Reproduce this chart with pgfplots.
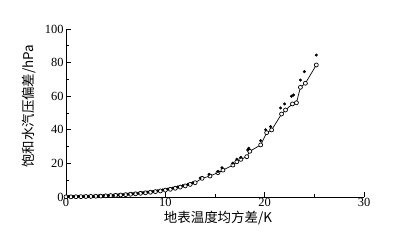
\documentclass[border=0pt]{standalone}
\usepackage{pgfplots}
\pgfplotsset{compat=1.18}
\usepackage{fontspec}
\setmainfont{Liberation Serif}
\newfontfamily\cjk{Noto Sans CJK SC}
\pgfplotstableread{
x y
0 0.1
0.5 0.1
1 0.15
1.5 0.2
2 0.3
2.5 0.35
3 0.45
3.5 0.55
4 0.7
4.5 0.85
5 1.0
5.5 1.2
6 1.4
6.5 1.65
7 1.9
7.5 2.2
8 2.5
8.5 2.85
9 3.2
9.5 3.6
10 4.1
10.5 4.6
11 5.2
11.5 5.9
12 6.6
12.5 7.5
13 8.5
13.7 11.1
14.5 12.5
15.3 14.5
15.8 16
16.8 19
17.2 21
17.6 22.4
18.2 24
18.5 27.2
19.6 31
20.2 38.3
20.7 39.9
21.7 49.4
22.1 51.8
22.8 55.4
23.2 56.1
23.6 65.3
24.1 67.7
25.2 78.6
}\opendata
\pgfplotstableread{
x y
0.25 0.2
0.75 0.25
1.25 0.3
1.75 0.35
2.25 0.45
2.75 0.5
3.25 0.6
3.75 0.75
4.25 0.9
4.75 1.05
5.25 1.25
5.75 1.45
6.25 1.7
6.75 1.95
7.25 2.25
7.75 2.55
8.25 2.9
8.75 3.3
9.25 3.7
9.75 4.2
10.25 4.7
10.75 5.3
11.25 6.0
11.75 6.7
12.25 7.5
12.75 8.4
13.5 11.3
14.4 13.5
15.3 15.2
15.7 17.4
16.8 20.2
17.2 22.5
17.6 23.6
18.3 28
18.4 29
19.6 33.5
20.1 40
20.6 41.9
21.6 53
22.0 55.4
22.7 60
22.9 60.7
23.6 69.6
24.0 74.6
25.2 84.5
}\filldata
\begin{document}
\begin{tikzpicture}
\path[use as bounding box] (0bp,0bp) rectangle (401bp,243bp);
\begin{axis}[
  at={(66bp,46bp)}, anchor=south west,
  scale only axis, width=298bp, height=168bp,
  xmin=0, xmax=30, ymin=0, ymax=100,
  axis x line*=bottom, axis y line*=left,
  axis line style={-, line width=0.8pt},
  tick align=inside,
  xtick={0,10,20,30}, ytick={0,20,40,60,80,100},
  minor x tick num=1, minor y tick num=1,
  major tick length=5bp, minor tick length=3bp,
  tick style={line width=0.7pt, black},
  /pgf/number format/assume math mode=true,
  tick label style={font=\fontsize{12.5}{13}\selectfont},
  xticklabel style={yshift=2bp},
  yticklabel style={xshift=1bp},
  clip=false,
  xlabel={\cjk 地表温度均方差/K},
  ylabel={\cjk 饱和水汽压偏差/hPa},
  xlabel style={font=\fontsize{13.5}{14}\selectfont, at={(rel axis cs:0.51,0)}, anchor=center, yshift=-21bp},
  ylabel style={font=\fontsize{13.5}{14}\selectfont, at={(rel axis cs:0,0.54)}, anchor=center, yshift=37bp},
]
\addplot[black, line width=0.7pt, mark=*, mark size=2bp, mark options={fill=white, line width=0.7pt}] table {\opendata};
\addplot[only marks, black, mark=*, mark size=1.3bp] table {\filldata};
\end{axis}
\end{tikzpicture}
\end{document}
